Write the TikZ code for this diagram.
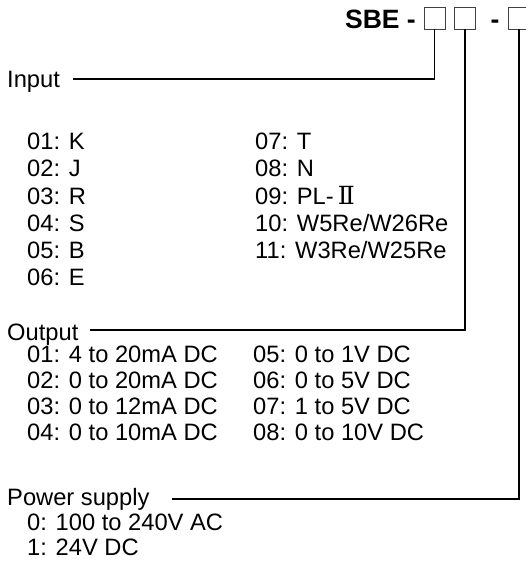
\documentclass[tikz,border=0pt]{standalone}
\usepackage{fontspec}
\setmainfont{Liberation Sans}
\newfontfamily\romfont{DejaVu Serif}
\begin{document}
\begin{tikzpicture}[x=1pt,y=-1pt,
  txt/.style={anchor=base west, inner sep=0pt, font=\fontsize{23.7}{28}\selectfont},
  title/.style={anchor=base east, inner sep=0pt, font=\fontsize{26.5}{30}\selectfont\bfseries},
  codebox/.style={draw=black!75, line width=0.8pt, minimum width=21pt, minimum height=22pt, inner sep=0pt},
  lead/.style={line width=1.4pt, black}]
\useasboundingbox (0,0) rectangle (526,563);

% header
\node[title] (sbe) at (416,28) {SBE -};
\node[codebox] (b1) at (434.5,18) {};
\node[codebox] (b2) at (465,18) {};
\node[title, anchor=base] (dash2) at (495,28) {-};
\node[codebox] (b3) at (519,18) {};

% Input
\node[txt] (lin) at (7,87) {Input};
\node[txt] (i01) at (27,149.5) {01: K};
\node[txt] (i02) at (27,176.5) {02: J};
\node[txt] (i03) at (27,204) {03: R};
\node[txt] (i04) at (27,231) {04: S};
\node[txt] (i05) at (27,258.5) {05: B};
\node[txt] (i06) at (27,285.5) {06: E};
\node[txt] (i07) at (255,149.5) {07: T};
\node[txt] (i08) at (255,176.5) {08: N};
\node[txt] (i09) at (255,204) {09: PL-\,{\romfont\fontsize{25}{28}\selectfont Ⅱ}};
\node[txt] (i10) at (255,231) {10: W5Re/W26Re};
\node[txt] (i11) at (255,258.5) {11: W3Re/W25Re};

% Output
\node[txt] (lout) at (7,340) {Output};
\node[txt] (o01) at (27,362) {01: 4 to 20mA DC};
\node[txt] (o02) at (27,388) {02: 0 to 20mA DC};
\node[txt] (o03) at (27,414) {03: 0 to 12mA DC};
\node[txt] (o04) at (27,440) {04: 0 to 10mA DC};
\node[txt] (o05) at (253,362) {05: 0 to 1V DC};
\node[txt] (o06) at (253,388) {06: 0 to 5V DC};
\node[txt] (o07) at (253,414) {07: 1 to 5V DC};
\node[txt] (o08) at (253,440) {08: 0 to 10V DC};

% Power supply
\node[txt] (lpow) at (7,505) {Power supply};
\node[txt] (p0) at (27,530) {0: 100 to 240V AC};
\node[txt] (p1) at (27,555) {1: 24V DC};

% connectors
\coordinate (s1) at (73,79);
\coordinate (s2) at (90,330);
\coordinate (s3) at (172,499);
\draw[lead] (s1) -| (b1.south);
\draw[lead] (s2) -| (b2.south);
\draw[lead] (s3) -| (b3.south);
\end{tikzpicture}
\end{document}
